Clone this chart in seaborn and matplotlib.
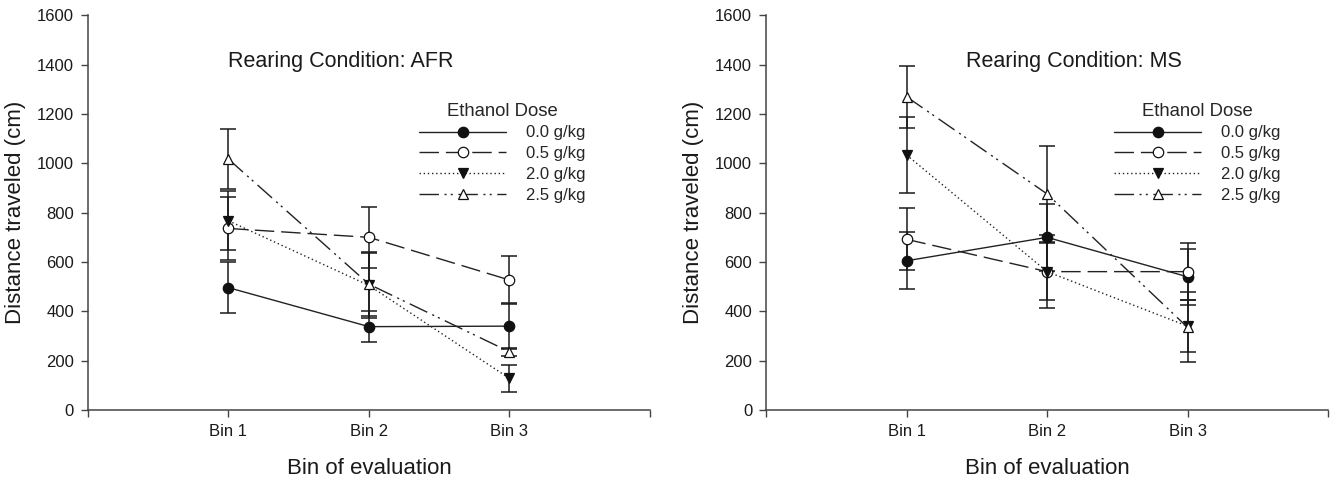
import matplotlib
matplotlib.use("Agg")
import matplotlib.pyplot as plt
import seaborn as sns
import pandas as pd

# 데이터
bins = ["Bin 1", "Bin 2", "Bin 3"]
doses = ["0.0 g/kg", "0.5 g/kg", "2.0 g/kg", "2.5 g/kg"]

afr_00 = [496, 338, 340]
afr_05 = [736, 700, 527]
afr_20 = [767, 505, 128]
afr_25 = [1017, 510, 236]
afr_se_00 = [104, 64, 92]
afr_se_05 = [129, 124, 98]
afr_se_20 = [120, 130, 56]
afr_se_25 = [123, 129, 15]

ms_00 = [605, 700, 540]
ms_05 = [692, 561, 561]
ms_20 = [1034, 561, 340]
ms_25 = [1270, 876, 335]
ms_se_00 = [116, 135, 114]
ms_se_05 = [126, 115, 115]
ms_se_20 = [153, 149, 104]
ms_se_25 = [126, 194, 142]


def make_df(means, ses):
    rows = []
    for dose, m, s in zip(doses, means, ses):
        for b, v, e in zip(bins, m, s):
            rows.append({"bin": b, "dose": dose, "mean": v, "se": e})
    return pd.DataFrame(rows)


df_afr = make_df([afr_00, afr_05, afr_20, afr_25],
                 [afr_se_00, afr_se_05, afr_se_20, afr_se_25])
df_ms = make_df([ms_00, ms_05, ms_20, ms_25],
                [ms_se_00, ms_se_05, ms_se_20, ms_se_25])

sns.set_style("ticks")
plt.rcParams["font.family"] = ["Liberation Sans", "DejaVu Sans"]

# 선 스타일 / 마커
styles = {
    "0.0 g/kg": dict(linestyle="-", marker="o", markerfacecolor="#111111"),
    "0.5 g/kg": dict(linestyle=(0, (14, 5)), marker="o", markerfacecolor="white"),
    "2.0 g/kg": dict(linestyle=(0, (1, 2)), marker="v", markerfacecolor="#111111"),
    "2.5 g/kg": dict(linestyle=(0, (14, 4, 1.5, 3, 1.5, 4)), marker="^", markerfacecolor="white"),
}
line_color = "#222222"

fig = plt.figure(figsize=(13.33, 4.79), dpi=100)
ax1 = fig.add_axes([0.066, 0.144, 0.4216, 0.824])
ax2 = fig.add_axes([0.5747, 0.144, 0.4216, 0.824])

panels = [(ax1, df_afr, "Rearing Condition: AFR", (0.45, 0.882), (0.575, 0.80)),
          (ax2, df_ms, "Rearing Condition: MS", (0.548, 0.882), (0.605, 0.80))]

for ax, df, title, tpos, lpos in panels:
    for dose in doses:
        sub = df[df["dose"] == dose]
        # 오차막대 먼저
        ax.errorbar(sub["bin"], sub["mean"], yerr=sub["se"], fmt="none",
                    ecolor="#1a1a1a", elinewidth=1.1, capsize=6, capthick=1.1, zorder=2)
        sns.lineplot(data=sub, x="bin", y="mean", ax=ax, color=line_color,
                     linewidth=1.0, markersize=7.5, markeredgecolor="#111111",
                     markeredgewidth=0.9, label=dose, errorbar=None, zorder=3,
                     **styles[dose])

    ax.set_xlim(-1, 3)
    ax.set_ylim(0, 1600)
    ax.set_xticks([-1, 0, 1, 2, 3])
    ax.set_xticklabels(["", "Bin 1", "Bin 2", "Bin 3", ""])
    ax.set_yticks(range(0, 1601, 200))
    ax.tick_params(axis="both", labelsize=12, length=5, width=1, color="#444444",
                   labelcolor="#1a1a1a", pad=5)
    for sp in ["top", "right"]:
        ax.spines[sp].set_visible(False)
    for sp in ["left", "bottom"]:
        ax.spines[sp].set_color("#444444")
        ax.spines[sp].set_linewidth(1.1)

    ax.set_xlabel("Bin of evaluation", fontsize=16, labelpad=14, color="#1a1a1a")
    ax.set_ylabel("Distance traveled (cm)", fontsize=16, labelpad=8, color="#1a1a1a")
    ax.text(tpos[0], tpos[1], title, transform=ax.transAxes, ha="center", va="center",
            fontsize=15.5, color="#1a1a1a")

    ax.legend(title="Ethanol Dose", frameon=False, loc="upper left",
              bbox_to_anchor=lpos, numpoints=1, handlelength=5.2,
              handletextpad=1.2, labelspacing=0.35, fontsize=12, title_fontsize=13.3,
              borderpad=0)

fig.savefig("out.png", dpi=100)
